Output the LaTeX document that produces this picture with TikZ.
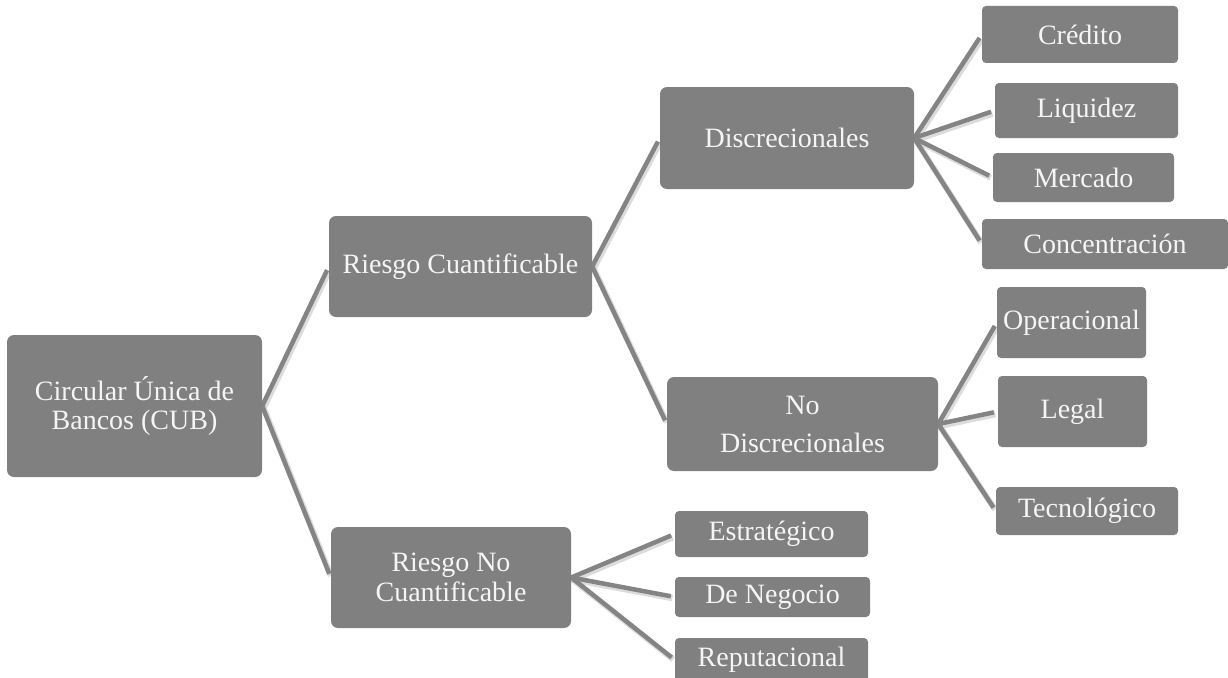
\documentclass[tikz,border=0pt]{standalone}
\usepackage{fontspec}
\setmainfont{Liberation Serif}
\usetikzlibrary{backgrounds}
\definecolor{boxgray}{RGB}{128,128,128}
\definecolor{linkgray}{RGB}{132,132,132}
\definecolor{shadowgray}{RGB}{205,205,205}
\begin{document}
\begin{tikzpicture}[x=1pt,y=-1pt,
  box/.style={fill=boxgray, text=white!96!black, rounded corners=7pt, inner sep=0pt,
              align=center, font=\fontsize{28}{29}\selectfont},
  leaf/.style={box, rounded corners=4pt},
  link/.style={draw=linkgray, line width=4.5pt, shorten >=4pt, shorten <=-2pt},
  linkshadow/.style={draw=shadowgray, line width=6pt, shorten >=4pt, shorten <=-2pt,
                     opacity=0.7, transform canvas={shift={(1.5pt,-2pt)}}}]
\useasboundingbox (0,0) rectangle (1228,677);
\clip (0,0) rectangle (1228,677);

% root and second level
\node[box, minimum width=255pt, minimum height=142pt] (cub) at (134.5,406)
  {Circular Única de\\Bancos (CUB)};
\node[box, minimum width=263pt, minimum height=101pt] (rc) at (460.5,266.5)
  {Riesgo Cuantificable};
\node[box, minimum width=240pt, minimum height=101pt] (rnc) at (451,577.5)
  {Riesgo No\\[1pt]Cuantificable};

% third level
\node[box, minimum width=254pt, minimum height=102pt] (disc) at (787,138)
  {Discrecionales};
\node[box, minimum width=271pt, minimum height=94pt] (nodisc) at (802.5,424)
  {No\\[9pt]Discrecionales};

% leaves of Discrecionales
\node[leaf, minimum width=196pt, minimum height=57pt] (cred) at (1080,34.5) {Crédito};
\node[leaf, minimum width=183pt, minimum height=55pt] (liq) at (1086.5,110.5) {Liquidez};
\node[leaf, minimum width=181pt, minimum height=49pt] (merc) at (1083.5,177.5) {Mercado};
\node[leaf, minimum width=246pt, minimum height=50pt] (conc) at (1105,244) {Concentración};

% leaves of No Discrecionales
\node[leaf, minimum width=149pt, minimum height=71pt] (oper) at (1071.5,322.5) {Operacional};
\node[leaf, minimum width=149pt, minimum height=71pt] (legal) at (1072.5,411.5) {Legal};
\node[leaf, minimum width=182pt, minimum height=48pt] (tec) at (1087,511) {Tecnológico};

% leaves of Riesgo No Cuantificable
\node[leaf, minimum width=193pt, minimum height=46pt] (estr) at (771.5,534) {Estratégico};
\node[leaf, minimum width=195pt, minimum height=40pt] (neg) at (772.5,597) {De Negocio};
\node[leaf, minimum width=193pt, minimum height=44pt] (rep) at (771.5,660) {Reputacional};

% connectors
\begin{scope}[on background layer]
\foreach \a/\b in {cub/rc, cub/rnc, rc/disc, rc/nodisc,
                   disc/cred, disc/liq, disc/merc, disc/conc,
                   nodisc/oper, nodisc/legal, nodisc/tec,
                   rnc/estr, rnc/neg, rnc/rep}
  \draw[linkshadow] (\a.east) -- (\b.west);
\foreach \a/\b in {cub/rc, cub/rnc, rc/disc, rc/nodisc,
                   disc/cred, disc/liq, disc/merc, disc/conc,
                   nodisc/oper, nodisc/legal, nodisc/tec,
                   rnc/estr, rnc/neg, rnc/rep}
  \draw[link] (\a.east) -- (\b.west);
\end{scope}
\end{tikzpicture}
\end{document}
